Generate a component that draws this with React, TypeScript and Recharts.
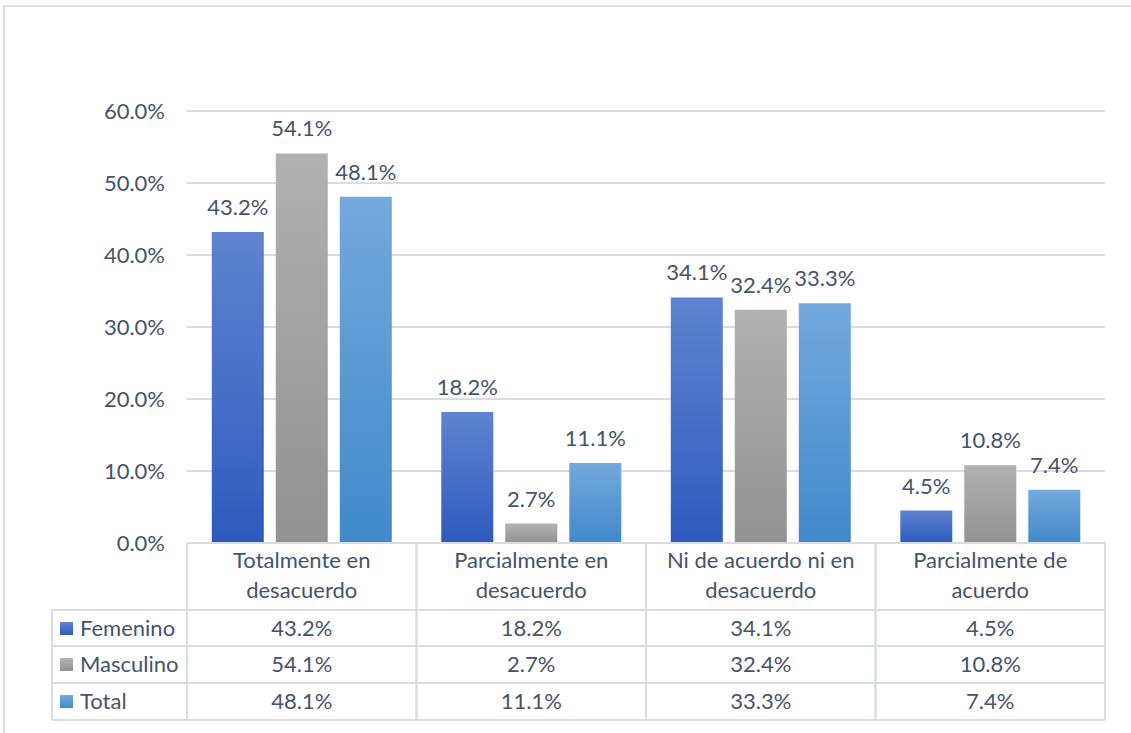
import React from 'react';
import { BarChart, Bar, XAxis, YAxis, CartesianGrid, LabelList } from 'recharts';

const categories = [
  'Totalmente en\ndesacuerdo',
  'Parcialmente en\ndesacuerdo',
  'Ni de acuerdo ni en\ndesacuerdo',
  'Parcialmente de\nacuerdo',
];
const femenino = [43.2, 18.2, 34.1, 4.5];
const masculino = [54.1, 2.7, 32.4, 10.8];
const total = [48.1, 11.1, 33.3, 7.4];
const yTicks = [0, 10, 20, 30, 40, 50, 60];

const series = [
  { key: 'Femenino', values: femenino, grad: 'gFem', top: '#6083d1', bottom: '#2d5bbd' },
  { key: 'Masculino', values: masculino, grad: 'gMas', top: '#b1b1b1', bottom: '#929292' },
  { key: 'Total', values: total, grad: 'gTot', top: '#74a9dd', bottom: '#4189ca' },
];

const data = categories.map((name, i) => {
  const row: Record<string, string | number> = { name };
  series.forEach((s) => (row[s.key] = s.values[i]));
  return row;
});

const W = 1131;
const H = 733;
const MARGIN = { top: 111, right: 26, bottom: 0, left: 0 };
const Y_WIDTH = 187;
const X_HEIGHT = 190;
const PLOT_LEFT = MARGIN.left + Y_WIDTH;
const PLOT_RIGHT = W - MARGIN.right;
const PLOT_BOTTOM = H - MARGIN.bottom - X_HEIGHT;
const BAND = (PLOT_RIGHT - PLOT_LEFT) / categories.length;

const FONT = 'Lato, "Open Sans", sans-serif';
const FS = 22;
const TEXT = '#44546a';
const LINE = '#d9dde3';

const ROWS = [PLOT_BOTTOM + 67, PLOT_BOTTOM + 103, PLOT_BOTTOM + 140, PLOT_BOTTOM + 177];
const TABLE_LEFT = 52;

const fmt = (v: number) => `${v.toFixed(1)}%`;

const TableTick = (props: any) => {
  const { x, payload, index } = props;
  const lines = String(payload.value).split('\n');
  const left = x - BAND / 2;
  const right = x + BAND / 2;
  return (
    <g fontFamily={FONT} fontSize={FS} fill={TEXT}>
      <line x1={left} x2={left} y1={PLOT_BOTTOM} y2={ROWS[3]} stroke={LINE} strokeWidth={2} />
      <line x1={right} x2={right} y1={PLOT_BOTTOM} y2={ROWS[3]} stroke={LINE} strokeWidth={2} />
      {lines.map((l, i) => (
        <text key={i} x={x} y={PLOT_BOTTOM + 25 + i * 30} textAnchor="middle" fill={TEXT}>
          {l}
        </text>
      ))}
      {series.map((s, r) => (
        <text key={s.key} x={x} y={ROWS[r] + 26} textAnchor="middle" fill={TEXT}>
          {fmt(s.values[index])}
        </text>
      ))}
      {index === 0 && (
        <g>
          {ROWS.map((ry) => (
            <line key={ry} x1={TABLE_LEFT} x2={PLOT_RIGHT} y1={ry} y2={ry} stroke={LINE} strokeWidth={2} />
          ))}
          <line x1={TABLE_LEFT} x2={TABLE_LEFT} y1={ROWS[0]} y2={ROWS[3]} stroke={LINE} strokeWidth={2} />
          <line x1={PLOT_LEFT} x2={PLOT_RIGHT} y1={PLOT_BOTTOM} y2={PLOT_BOTTOM} stroke={LINE} strokeWidth={2} />
          {series.map((s, r) => (
            <g key={s.key}>
              <rect x={TABLE_LEFT + 8} y={ROWS[r] + 12} width={13} height={13} fill={`url(#${s.grad})`} />
              <text x={TABLE_LEFT + 28} y={ROWS[r] + 26} fill={TEXT}>
                {s.key}
              </text>
            </g>
          ))}
        </g>
      )}
    </g>
  );
};

export default function App() {
  return (
    <div style={{ position: 'absolute', left: 0, top: 0, width: W, height: H, background: '#fff' }}>
      <div
        style={{
          position: 'absolute',
          left: 3,
          top: 5,
          width: W,
          height: H,
          border: '2px solid #dcdfe4',
          boxSizing: 'border-box',
        }}
      />
      <BarChart
        width={W}
        height={H}
        data={data}
        margin={MARGIN}
        barCategoryGap="10.8%"
        barGap={12}
        style={{ position: 'absolute', left: 0, top: 0 }}
      >
        <defs>
          {series.map((s) => (
            <linearGradient key={s.grad} id={s.grad} x1="0" y1="0" x2="0" y2="1">
              <stop offset="0%" stopColor={s.top} />
              <stop offset="100%" stopColor={s.bottom} />
            </linearGradient>
          ))}
        </defs>
        <CartesianGrid vertical={false} stroke={LINE} strokeWidth={2} />
        <XAxis
          dataKey="name"
          height={X_HEIGHT}
          axisLine={false}
          tickLine={false}
          interval={0}
          tick={<TableTick />}
        />
        <YAxis
          width={Y_WIDTH}
          domain={[0, 60]}
          ticks={yTicks}
          axisLine={false}
          tickLine={false}
          tickMargin={16}
          tickFormatter={(v: number) => fmt(v)}
          tick={{ fill: TEXT, fontSize: FS, fontFamily: FONT }}
        />
        {series.map((s) => (
          <Bar key={s.key} dataKey={s.key} fill={`url(#${s.grad})`} isAnimationActive={false}>
            <LabelList
              dataKey={s.key}
              position="top"
              offset={17}
              formatter={(v: any) => fmt(Number(v))}
              style={{ fill: TEXT, fontSize: FS, fontFamily: FONT }}
            />
          </Bar>
        ))}
      </BarChart>
    </div>
  );
}
